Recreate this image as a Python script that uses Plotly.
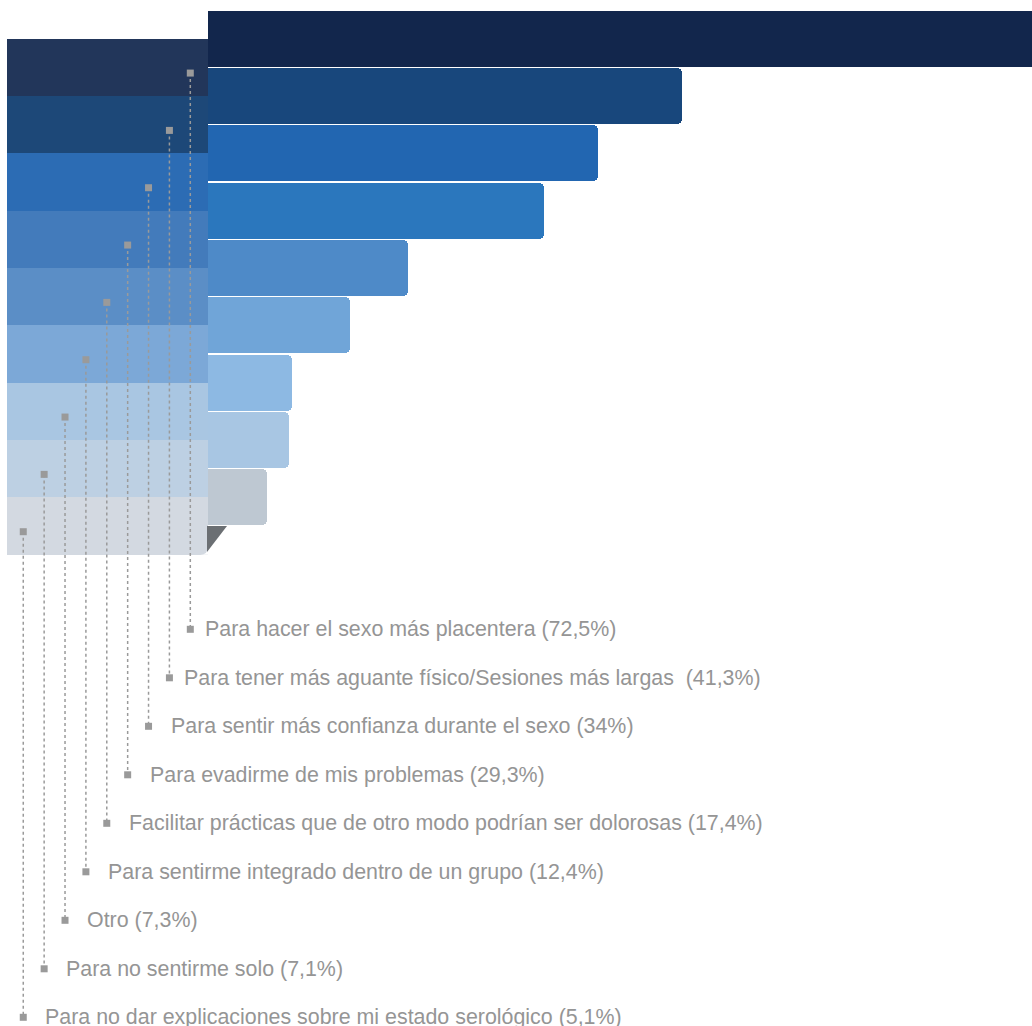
import plotly.graph_objects as go

# ---------------- data ----------------
categories = [
    "Para hacer el sexo más placentera",
    "Para tener más aguante físico/Sesiones más largas\u00a0",
    "Para sentir más confianza durante el sexo",
    "Para evadirme de mis problemas",
    "Facilitar prácticas que de otro modo podrían ser dolorosas",
    "Para sentirme integrado dentro de un grupo",
    "Otro",
    "Para no sentirme solo",
    "Para no dar explicaciones sobre mi estado serológico",
]
values = [72.5, 41.3, 34, 29.3, 17.4, 12.4, 7.3, 7.1, 5.1]

bar_colors = ["#12264c", "#18477c", "#2266b1", "#2b77bd", "#4e8ac8",
              "#70a5d8", "#8db9e3", "#a8c6e3", "#bec8d2"]
tab_colors = ["#22365a", "#1d4878", "#2c6cb4", "#437bbb", "#5b8ec6",
              "#7ca8d7", "#a9c6e2", "#bdd0e3", "#d3d9e1"]


def fmt(v):
    return f"{v:g}".replace(".", ",")


labels = [f"{c} ({fmt(v)}%)" for c, v in zip(categories, values)]

# ---------------- layout constants ----------------
W, H = 1032, 1026
PX_X = 11.47      # pixels per percent
PX_Y = 57.33      # pixels per row
X0, Y0 = 208, 38.67
x_range = [-X0 / PX_X, (W - X0) / PX_X]
y_range = [(H - Y0) / PX_Y, -Y0 / PX_Y]

n = len(values)
rows = list(range(n))
TAB_BASE = (7 - X0) / PX_X
GRAY = "#9a9a9a"
TEXT = "#959595"

fig = go.Figure()

# left tabs (offset by half a row)
fig.add_trace(go.Bar(
    orientation="h", y=[r + 0.5 for r in rows], x=[-TAB_BASE] * n, base=TAB_BASE,
    width=1.0, marker=dict(color=tab_colors, line=dict(width=0)),
    hoverinfo="skip", showlegend=False,
))
# main bars
fig.add_trace(go.Bar(
    orientation="h", y=rows, x=values, width=0.98,
    marker=dict(color=bar_colors, line=dict(width=0), cornerradius=5),
    hoverinfo="skip", showlegend=False,
))

# leader lines and labels
lead_x0 = (190.3 - X0) / PX_X
lead_step = 20.88 / PX_X
label_row0 = (629.3 - Y0) / PX_Y
label_step = 48.5 / PX_Y
annotations = []
for i in rows:
    lx = lead_x0 - lead_step * i
    ly = label_row0 + label_step * i
    fig.add_trace(go.Scatter(
        x=[lx, lx], y=[i + 0.6, ly], mode="lines+markers",
        line=dict(color=GRAY, width=1.5, dash="dot"),
        marker=dict(symbol="square", size=7, color=GRAY),
        hoverinfo="skip", showlegend=False,
    ))
    gap = (13 if i < 2 else 20) / PX_X
    annotations.append(dict(
        x=lx + gap, y=ly, xref="x", yref="y", text=labels[i],
        showarrow=False, xanchor="left", yanchor="middle",
        font=dict(family="Liberation Sans, Arial, sans-serif", size=21.4, color=TEXT),
    ))

# corner shapes: folded triangle and rounded corner of last tab
last_bottom = n - 1 + 1.0
rx, ry = 8 / PX_X, 8 / PX_Y
shapes = [
    dict(type="path", xref="x", yref="y", layer="above",
         path=(f"M {-rx},{last_bottom} L 0,{last_bottom} L 0,{last_bottom - ry} "
               f"Q 0,{last_bottom} {-rx},{last_bottom} Z"),
         fillcolor="white", line=dict(width=0)),
    dict(type="path", xref="x", yref="y", layer="above",
         path=(f"M {-1 / PX_X},{n - 1 + 0.5} L {19 / PX_X},{n - 1 + 0.5} "
               f"L {-1 / PX_X},{n - 1 + 0.5 + 26 / PX_Y} Z"),
         fillcolor="#6b6f73", line=dict(width=0)),
]

fig.update_layout(
    width=W, height=H, margin=dict(l=0, r=0, t=0, b=0),
    paper_bgcolor="white", plot_bgcolor="white",
    barmode="overlay", bargap=0,
    xaxis=dict(range=x_range, visible=False, fixedrange=True),
    yaxis=dict(range=y_range, visible=False, fixedrange=True),
    annotations=annotations, shapes=shapes, showlegend=False,
)

fig.write_html("out.html", config={"displayModeBar": False},
               post_script="document.body.style.margin='0';document.body.style.overflow='hidden';")
